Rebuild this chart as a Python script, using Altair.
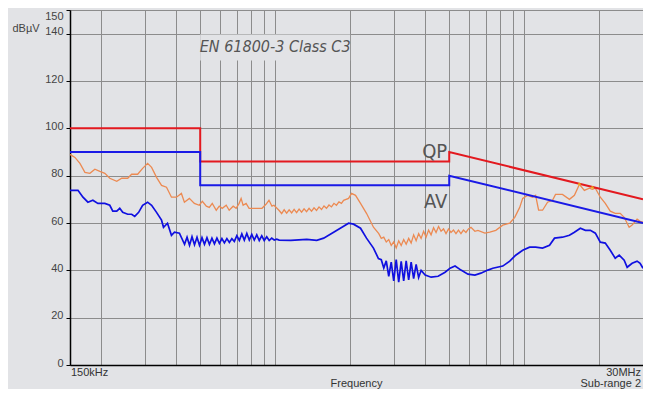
import altair as alt
import pandas as pd

BG = "#e2e3e6"
GRID = "#8c8c8c"
COND = "DejaVu Sans Condensed, sans-serif"
SANS = "Liberation Sans, Arial, sans-serif"

# ---- limit lines (EN 61800-3 Class C3) ----
qp_freq = [0.15, 0.5, 0.5, 5.0, 5.0, 30.0]
qp_level = [100, 100, 86, 86, 90, 70]
av_freq = [0.15, 0.5, 0.5, 5.0, 5.0, 30.0]
av_level = [90, 90, 76, 76, 80, 60]

# ---- measured quasi-peak trace (orange) ----
qpm_freq = [
    0.150, 0.157, 0.1644, 0.1722, 0.1803, 0.1888, 0.1977, 0.2070, 0.2167, 0.2311,
    0.2420, 0.2558, 0.2653, 0.2804, 0.2936, 0.3074, 0.3190, 0.3339, 0.3497, 0.3661,
    0.3833, 0.4014, 0.4202, 0.4320, 0.4523, 0.4736, 0.4959, 0.5100, 0.5291, 0.5438,
    0.5590, 0.5800, 0.5963, 0.6130, 0.6359, 0.6537, 0.6781, 0.6971, 0.7166, 0.7299,
    0.7434, 0.7642, 0.7856, 0.8378, 0.8854, 0.9186, 0.9443, 0.9707, 0.9888, 1.0354,
    1.0619, 1.0867, 1.1120, 1.1379, 1.1644, 1.1915, 1.2192, 1.2476, 1.2767, 1.3064,
    1.3369, 1.3680, 1.3999, 1.4325, 1.4659, 1.5000, 1.5349, 1.5707, 1.6072, 1.6447,
    1.6830, 1.7223, 1.7624, 1.8034, 1.8454,
    1.8828, 1.9715, 2.0267, 2.1027, 2.2017, 2.3267, 2.4816,
    2.6067, 2.6675, 2.7296, 2.7932, 2.8582, 2.9247, 2.9929, 3.0626, 3.1339, 3.2070,
    3.2817, 3.3581, 3.4364, 3.5163, 3.5982, 3.6821, 3.7679, 3.8556, 3.9455, 4.0373,
    4.1313, 4.2276, 4.3260, 4.4268, 4.5300, 4.6354, 4.7434, 4.8539, 4.9669, 5.0826,
    5.2011, 5.3222, 5.4462, 5.5731, 5.7029, 5.8358, 5.9716,
    6.1136, 6.3405, 6.5183, 6.9512, 7.2794, 7.6913, 8.2034, 8.7488, 9.1620, 9.5936,
    9.8624, 10.326, 10.813, 11.115, 11.425, 11.853, 12.412, 12.998, 13.361, 14.247,
    15.195, 15.911, 16.658, 17.445, 18.269, 18.779, 19.308, 20.213, 21.166, 22.164,
    23.205, 24.300, 25.208, 26.393, 27.131, 28.406, 29.203, 30.0,
]
qpm_level = [
    89.0, 87.7, 85.2, 81.4, 81.0, 82.7, 81.8, 81.0, 78.9, 77.6,
    78.9, 78.9, 80.6, 80.6, 83.1, 85.2, 83.5, 79.3, 75.9, 75.1,
    70.9, 70.9, 72.5, 68.8, 70.4, 68.3, 67.5, 69.2, 67.1, 66.6,
    68.3, 65.4, 67.1, 66.2, 67.5, 65.4, 67.1, 66.2, 68.3, 70.4,
    67.5, 68.3, 66.2, 66.2, 66.2, 67.9, 69.6, 67.1, 67.5, 65.4,
    64.0, 65.6, 64.2, 65.6, 64.3, 65.8, 64.4, 65.9, 64.6, 66.0,
    64.8, 66.2, 65.0, 66.4, 65.3, 66.8, 65.7, 67.2, 66.2, 67.6,
    66.8, 68.3, 67.5, 68.9, 68.3,
    69.6, 70.4, 72.5, 71.7, 68.3, 64.1, 58.2,
    55.5, 53.5, 54.0, 52.0, 53.0, 50.5, 52.0, 49.5, 52.5, 50.5,
    53.0, 51.0, 53.5, 51.5, 55.0, 52.5, 55.5, 53.5, 56.5, 54.0,
    57.0, 55.0, 58.0, 56.0, 58.5, 56.5, 57.5, 55.5, 57.5, 56.0,
    57.0, 55.5, 57.0, 55.5, 57.0, 56.0, 57.5,
    58.2, 56.5, 56.9, 55.7, 56.1, 56.9, 59.1, 59.9, 62.4, 66.6,
    70.4, 71.7, 70.9, 71.7, 65.4, 65.4, 68.8, 69.6, 72.1, 72.1,
    70.0, 71.7, 76.3, 73.8, 74.7, 74.2, 74.7, 70.9, 68.3, 65.0,
    64.1, 64.1, 62.4, 58.2, 59.1, 61.6, 60.7, 60.3,
]

# ---- measured average trace (blue) ----
avm_freq = [
    0.150, 0.1615, 0.1691, 0.1770, 0.1853, 0.1941, 0.2070, 0.2167, 0.2228, 0.2311,
    0.2376, 0.2442, 0.2558, 0.2653, 0.2729, 0.2830, 0.2936, 0.3074, 0.3190, 0.3339,
    0.3497, 0.3561, 0.3695, 0.3833, 0.3942, 0.4126,
    0.4326, 0.4427, 0.4530, 0.4635, 0.4743, 0.4854, 0.4967, 0.5083, 0.5201, 0.5322,
    0.5446, 0.5573, 0.5703, 0.5836, 0.5972, 0.6111, 0.6253, 0.6399, 0.6548, 0.6700,
    0.6856, 0.7016, 0.7179, 0.7347, 0.7518, 0.7693, 0.7872, 0.8055, 0.8243, 0.8435,
    0.8632, 0.8833, 0.9038, 0.9249, 0.9464, 0.9685, 0.9910, 1.0141, 1.0377,
    1.156, 1.3393, 1.4685, 1.566, 1.7172, 1.8828, 1.9715, 2.0636, 2.2017, 2.3267,
    2.4816, 2.5982,
    2.6675, 2.7296, 2.7932, 2.8582, 2.9247, 2.9929, 3.0626, 3.1339, 3.2070, 3.2817,
    3.3581, 3.4364, 3.5163, 3.5982, 3.6821, 3.7679, 3.8556,
    4.0033, 4.230, 4.512, 4.8122, 5.0393, 5.2763, 5.576, 5.9465, 6.3405, 6.700,
    7.146, 7.483, 8.2034, 8.7488, 9.245, 9.8624, 10.518, 11.115, 11.853, 12.640,
    13.237, 14.247, 15.195, 15.911, 16.811, 17.606, 18.437, 19.308, 20.213, 21.166,
    22.164, 23.205, 24.077, 25.208, 25.916, 27.131, 28.406, 29.203, 30.0,
]
avm_level = [
    73.8, 73.8, 70.9, 68.8, 69.6, 68.3, 68.3, 67.5, 65.0, 65.0,
    66.2, 64.5, 63.7, 63.7, 62.8, 64.5, 67.5, 68.8, 67.5, 64.5,
    61.2, 58.2, 59.9, 54.8, 56.1, 55.7,
    51.0, 54.0, 50.6, 54.2, 50.8, 54.0, 50.6, 53.8, 51.0, 53.8,
    51.0, 53.6, 51.2, 53.6, 51.4, 53.4, 51.6, 53.4, 51.8, 53.4,
    52.2, 54.6, 52.6, 55.4, 52.8, 55.6, 52.8, 55.2, 52.8, 55.0,
    52.6, 54.6, 52.6, 54.2, 52.6, 53.6, 52.8, 53.2, 52.8,
    52.7, 53.1, 52.7, 53.6, 56.1, 58.6, 59.9, 59.5, 57.8, 53.6,
    49.4, 45.0,
    44.5, 41.0, 44.0, 37.5, 43.5, 35.5, 44.5, 35.0, 43.8, 35.5,
    44.0, 36.0, 43.5, 36.5, 42.5, 37.0, 40.0,
    38.0, 37.1, 37.5, 39.2, 40.9, 41.8, 40.1, 38.4, 38.0, 38.8,
    40.1, 40.9, 41.8, 43.9, 46.4, 48.5, 49.8, 49.8, 49.4, 50.6,
    53.6, 54.0, 54.8, 56.1, 57.8, 56.9, 56.9, 55.7, 51.9, 51.5,
    48.5, 45.1, 46.4, 44.3, 41.3, 43.0, 43.9, 43.0, 40.9,
]

# peaks touching the QP limit (yellow marks)
peak_freq = [16.66, 18.78]
peak_level = [76.4, 75.0]

y_ticks = [0, 20, 40, 60, 80, 100, 120, 140, 150]
x_grid = [0.2, 0.3, 0.4, 0.5, 0.6, 0.7, 0.8, 0.9, 1, 2, 3, 4, 5, 6, 7, 8, 9, 10, 20]


def frame(freqs, levels):
    return pd.DataFrame({"f": freqs, "db": levels, "i": list(range(len(freqs)))})


x_scale = alt.Scale(type="log", domain=[0.15, 30], nice=False)
y_scale = alt.Scale(domain=[0, 150], nice=False, zero=False)

x_axis = alt.Axis(values=x_grid, grid=True, gridColor=GRID, gridWidth=1,
                  labels=False, ticks=False, domainColor="#000000",
                  domainWidth=1.5, title=None)
y_axis = alt.Axis(values=y_ticks, grid=True, gridColor=GRID, gridWidth=1,
                  tickColor="#000000", tickSize=4, tickWidth=1,
                  labelColor="#444444", labelFont=SANS, labelFontSize=11,
                  labelPadding=3, labelOverlap=False,
                  labelOffset={"condition": {"test": "datum.value == 150", "value": 6}, "value": -2},
                  domainColor="#000000", domainWidth=1.5,
                  title="dBµV", titleAngle=0, titleAlign="left",
                  titleBaseline="middle", titleX=-58, titleY=18,
                  titleFont=SANS, titleFontSize=11, titleFontWeight="normal",
                  titleColor="#444444")


def X(field="f"):
    return alt.X(f"{field}:Q", scale=x_scale, axis=x_axis)


def Y(field="db"):
    return alt.Y(f"{field}:Q", scale=y_scale, axis=y_axis)


# title box covering the grid
box = alt.Chart(pd.DataFrame({"f": [0.5], "f2": [2.0], "db": [139.6], "db2": [128.7]})).mark_rect(
    color=BG).encode(x=X(), x2="f2:Q", y=Y(), y2="db2:Q")

title_txt = alt.Chart(pd.DataFrame({"f": [1.0], "db": [134.2], "t": ["EN 61800-3 Class C3"]})).mark_text(
    font=COND, fontStyle="italic", fontSize=16, color="#555555", align="center",
    baseline="middle").encode(x=X(), y=Y(), text="t:N")

orange = alt.Chart(frame(qpm_freq, qpm_level)).mark_line(
    color="#ec8a52", strokeWidth=1.3).encode(x=X(), y=Y(), order="i:Q")
blue = alt.Chart(frame(avm_freq, avm_level)).mark_line(
    color="#1010e0", strokeWidth=1.7).encode(x=X(), y=Y(), order="i:Q")
qp_lim = alt.Chart(frame(qp_freq, qp_level)).mark_line(
    color="#e3191f", strokeWidth=2).encode(x=X(), y=Y(), order="i:Q")
av_lim = alt.Chart(frame(av_freq, av_level)).mark_line(
    color="#1a1ae6", strokeWidth=2).encode(x=X(), y=Y(), order="i:Q")
peaks = alt.Chart(frame(peak_freq, peak_level)).mark_point(
    color="#f2d21b", filled=True, size=14, shape="diamond").encode(x=X(), y=Y())

lim_lbl = alt.Chart(pd.DataFrame({"f": [5.0, 5.0], "db": [87.3, 66.3], "t": ["QP", "AV"]})).mark_text(
    font=COND, fontSize=20, color="#555555", align="right", baseline="alphabetic",
    dx=-2).encode(x=X(), y=Y(), text="t:N")

left_lbl = alt.Chart(pd.DataFrame({"f": [0.15], "t": ["150kHz"]})).mark_text(
    font=SANS, fontSize=11, color="#333333", align="left", baseline="middle", dx=1).encode(
    x=X(), y=alt.value(362.5), text="t:N")
right_lbl = alt.Chart(pd.DataFrame({"f": [30.0, 30.0], "t": ["30MHz", "Sub-range 2"],
                                    "yy": [362.5, 373.5]})).mark_text(
    font=SANS, fontSize=11, color="#333333", align="right", baseline="middle", dx=-2).encode(
    x=X(), y=alt.Y("yy:Q", scale=None), text="t:N")
freq_lbl = alt.Chart(pd.DataFrame({"t": ["Frequency"]})).mark_text(
    font=SANS, fontSize=11, color="#333333", align="center", baseline="middle").encode(
    x=alt.value(286.5), y=alt.value(373.5), text="t:N")

chart = alt.layer(
    box, orange, blue, qp_lim, av_lim, peaks, title_txt, lim_lbl, left_lbl, right_lbl, freq_lbl
).properties(
    width=573, height=355,
    padding={"left": 62, "right": 0, "top": 2, "bottom": 24},
    autosize=alt.AutoSizeParams(type="none"),
).configure(background=BG).configure_view(stroke=GRID, strokeWidth=1)

chart.save("out.html", embed_options={"renderer": "svg", "actions": False})
